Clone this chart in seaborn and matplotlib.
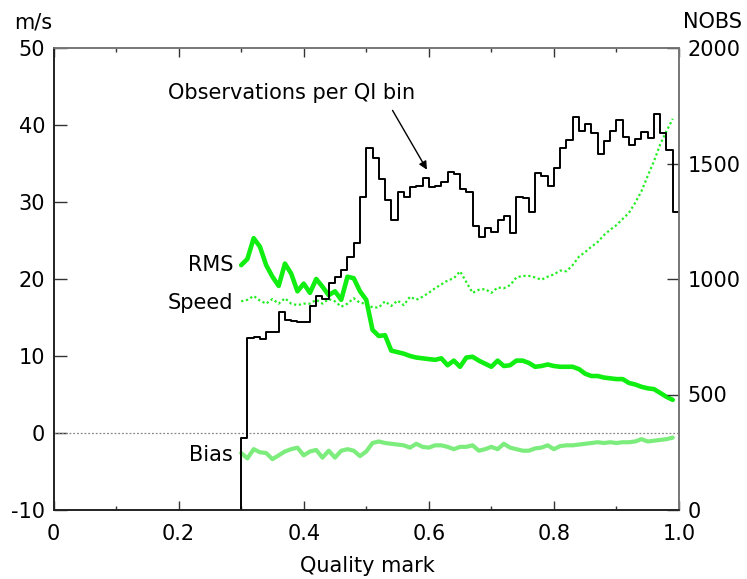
import numpy as np
import pandas as pd
import matplotlib
matplotlib.use("Agg")
import matplotlib.pyplot as plt
import seaborn as sns

# ---------------- data ----------------
quality = [round(0.30 + 0.01 * i, 2) for i in range(70)]  # 0.30 ... 0.99

nobs = [312, 745, 750, 740, 772, 772, 857, 822, 820, 815,
        815, 883, 926, 913, 982, 1010, 1039, 1097, 1156, 1356,
        1568, 1524, 1433, 1342, 1255, 1375, 1356, 1397, 1403, 1439,
        1397, 1403, 1421, 1465, 1454, 1388, 1378, 1229, 1183, 1219,
        1202, 1255, 1274, 1198, 1356, 1349, 1289, 1460, 1446, 1403,
        1479, 1566, 1602, 1703, 1641, 1670, 1631, 1541, 1599, 1641,
        1688, 1616, 1580, 1606, 1638, 1609, 1714, 1631, 1558, 1289]

rms = [21.8, 22.6, 25.3, 24.2, 21.8, 20.3, 19.1, 22.0, 20.7, 18.4,
       19.4, 18.2, 20.0, 19.0, 17.9, 18.4, 17.3, 20.3, 20.1, 18.4,
       17.3, 13.4, 12.6, 12.7, 10.7, 10.5, 10.3, 10.0, 9.8, 9.7,
       9.6, 9.5, 9.7, 8.8, 9.4, 8.6, 9.8, 9.9, 9.4, 9.0,
       8.6, 9.4, 8.7, 8.8, 9.4, 9.4, 9.1, 8.6, 8.7, 8.9,
       8.7, 8.6, 8.6, 8.6, 8.3, 7.7, 7.4, 7.4, 7.2, 7.1,
       7.0, 7.0, 6.5, 6.3, 6.0, 5.8, 5.7, 5.2, 4.7, 4.3]

speed = [17.1, 17.3, 17.8, 17.2, 16.8, 17.4, 16.8, 17.5, 16.8, 16.6,
         16.8, 16.8, 17.3, 16.8, 17.4, 17.1, 16.4, 16.8, 17.5, 16.9,
         16.8, 16.3, 16.3, 17.1, 16.5, 17.2, 16.6, 17.7, 17.3, 17.7,
         18.2, 18.8, 19.3, 19.8, 20.1, 21.0, 19.6, 18.2, 18.6, 18.7,
         18.2, 18.9, 18.8, 19.2, 20.2, 20.4, 20.4, 20.2, 19.9, 20.3,
         20.6, 21.1, 21.0, 21.8, 22.9, 23.5, 24.2, 24.8, 25.7, 26.4,
         27.0, 27.8, 28.6, 29.9, 31.4, 33.4, 35.3, 37.5, 39.2, 40.8]

bias = [-2.6, -3.3, -2.1, -2.5, -2.6, -3.4, -2.9, -2.4, -2.1, -1.9,
        -2.9, -2.4, -2.2, -3.2, -2.3, -3.2, -2.3, -2.1, -2.3, -3.0,
        -2.4, -1.3, -1.1, -1.3, -1.4, -1.5, -1.6, -1.9, -1.4, -1.8,
        -1.9, -1.6, -1.6, -1.8, -2.1, -1.8, -1.8, -1.6, -2.3, -2.1,
        -1.8, -2.1, -1.4, -1.9, -2.1, -2.3, -2.3, -2.0, -1.9, -1.6,
        -2.1, -1.7, -1.6, -1.6, -1.5, -1.4, -1.3, -1.2, -1.3, -1.2,
        -1.3, -1.2, -1.2, -1.1, -0.8, -1.1, -1.0, -0.9, -0.8, -0.6]

x_ticks = [0, 0.2, 0.4, 0.6, 0.8, 1.0]
x_ticklabels = ["0", "0.2", "0.4", "0.6", "0.8", "1.0"]
left_ticks = [-10, 0, 10, 20, 30, 40, 50]
right_ticks = [0, 500, 1000, 1500, 2000]

# ---------------- style ----------------
sns.set_theme(style="white")
plt.rcParams["font.family"] = ["DejaVu Sans"]
plt.rcParams["axes.unicode_minus"] = False
plt.rcParams["text.color"] = "black"
plt.rcParams["xtick.color"] = "#333333"
plt.rcParams["ytick.color"] = "#333333"
plt.rcParams["xtick.labelcolor"] = "black"
plt.rcParams["ytick.labelcolor"] = "black"
FS = 15

W, H = 747, 579
fig = plt.figure(figsize=(W / 100, H / 100), dpi=100)
fig.subplots_adjust(left=53.5 / W, right=679 / W, bottom=1 - 510 / H, top=1 - 48 / H)
ax = fig.add_subplot(111)
ax2 = ax.twinx()

df = pd.DataFrame({"q": quality, "rms": rms, "speed": speed, "bias": bias})

# zero line
ax.axhline(0, color="#888888", lw=0.9, ls=(0, (1.5, 1.5)), zorder=1)

sns.lineplot(data=df, x="q", y="bias", ax=ax, color="#7ced7c", lw=3.0,
             estimator=None, sort=False, zorder=3, legend=False)
sns.lineplot(data=df, x="q", y="speed", ax=ax, color="#22ee22", lw=1.6,
             ls=(0, (1, 1.2)), estimator=None, sort=False, zorder=3, legend=False)
sns.lineplot(data=df, x="q", y="rms", ax=ax, color="#11ee11", lw=3.3,
             estimator=None, sort=False, zorder=4, legend=False)

# histogram outline (steps)
edges = quality + [1.00]
hx = [quality[0]] + edges
hy = [0] + nobs + [nobs[-1]]
hdf = pd.DataFrame({"edge": hx, "n": hy})
sns.lineplot(data=hdf, x="edge", y="n", ax=ax2, color="black", lw=1.4,
             drawstyle="steps-post", estimator=None, sort=False, legend=False)

# ---------------- axes ----------------
ax.set_xlim(0, 1.0)
ax.set_ylim(-10, 50)
ax2.set_ylim(0, 2000)
ax.set_xticks(x_ticks)
ax.set_xticklabels(x_ticklabels)
ax.set_xticks([0.1, 0.3, 0.5, 0.7, 0.9], minor=True)
ax.set_yticks(left_ticks)
ax2.set_yticks(right_ticks)
ax.set_xlabel("")
ax.set_ylabel("")
ax2.set_xlabel("")
ax2.set_ylabel("")

ax.tick_params(axis="x", which="major", direction="in", length=6.5, width=1.0,
               top=True, bottom=True, labelsize=FS, pad=10)
ax.tick_params(axis="x", which="minor", direction="in", length=3, width=1.0,
               top=True, bottom=True)
ax.tick_params(axis="y", which="major", direction="in", length=9.5, width=1.0,
               left=True, right=False, labelsize=FS, pad=6)
ax2.tick_params(axis="y", which="major", direction="in", length=9, width=1.0,
                right=True, left=False, labelsize=FS, pad=6)

for a in (ax, ax2):
    for s in a.spines.values():
        s.set_linewidth(1.2)
        s.set_color("#777777")
    a.spines["left"].set_color("#222222")
    a.spines["bottom"].set_color("#222222")
    a.grid(False)

# ---------------- texts ----------------
ax.text(0.287, 21.8, "RMS", ha="right", va="center", fontsize=FS)
ax.text(0.287, 16.9, "Speed", ha="right", va="center", fontsize=FS)
ax.text(0.287, -2.9, "Bias", ha="right", va="center", fontsize=FS)
ax.annotate("", xy=(0.597, 34.2), xytext=(0.542, 41.9),
            arrowprops=dict(arrowstyle="-|>", color="black", lw=1.0,
                            mutation_scale=12, shrinkA=0, shrinkB=0), zorder=6)
ax.text(0.38, 44.2, "Observations per QI bin", ha="center", va="center", fontsize=FS)

fig.text(33.5 / W, 1 - 23 / H, "m/s", ha="center", va="center", fontsize=FS)
fig.text(712.5 / W, 1 - 21.5 / H, "NOBS", ha="center", va="center", fontsize=FS)
fig.text(367 / W, 1 - 566.5 / H, "Quality mark", ha="center", va="center", fontsize=FS)

fig.savefig("out.png", dpi=100)
